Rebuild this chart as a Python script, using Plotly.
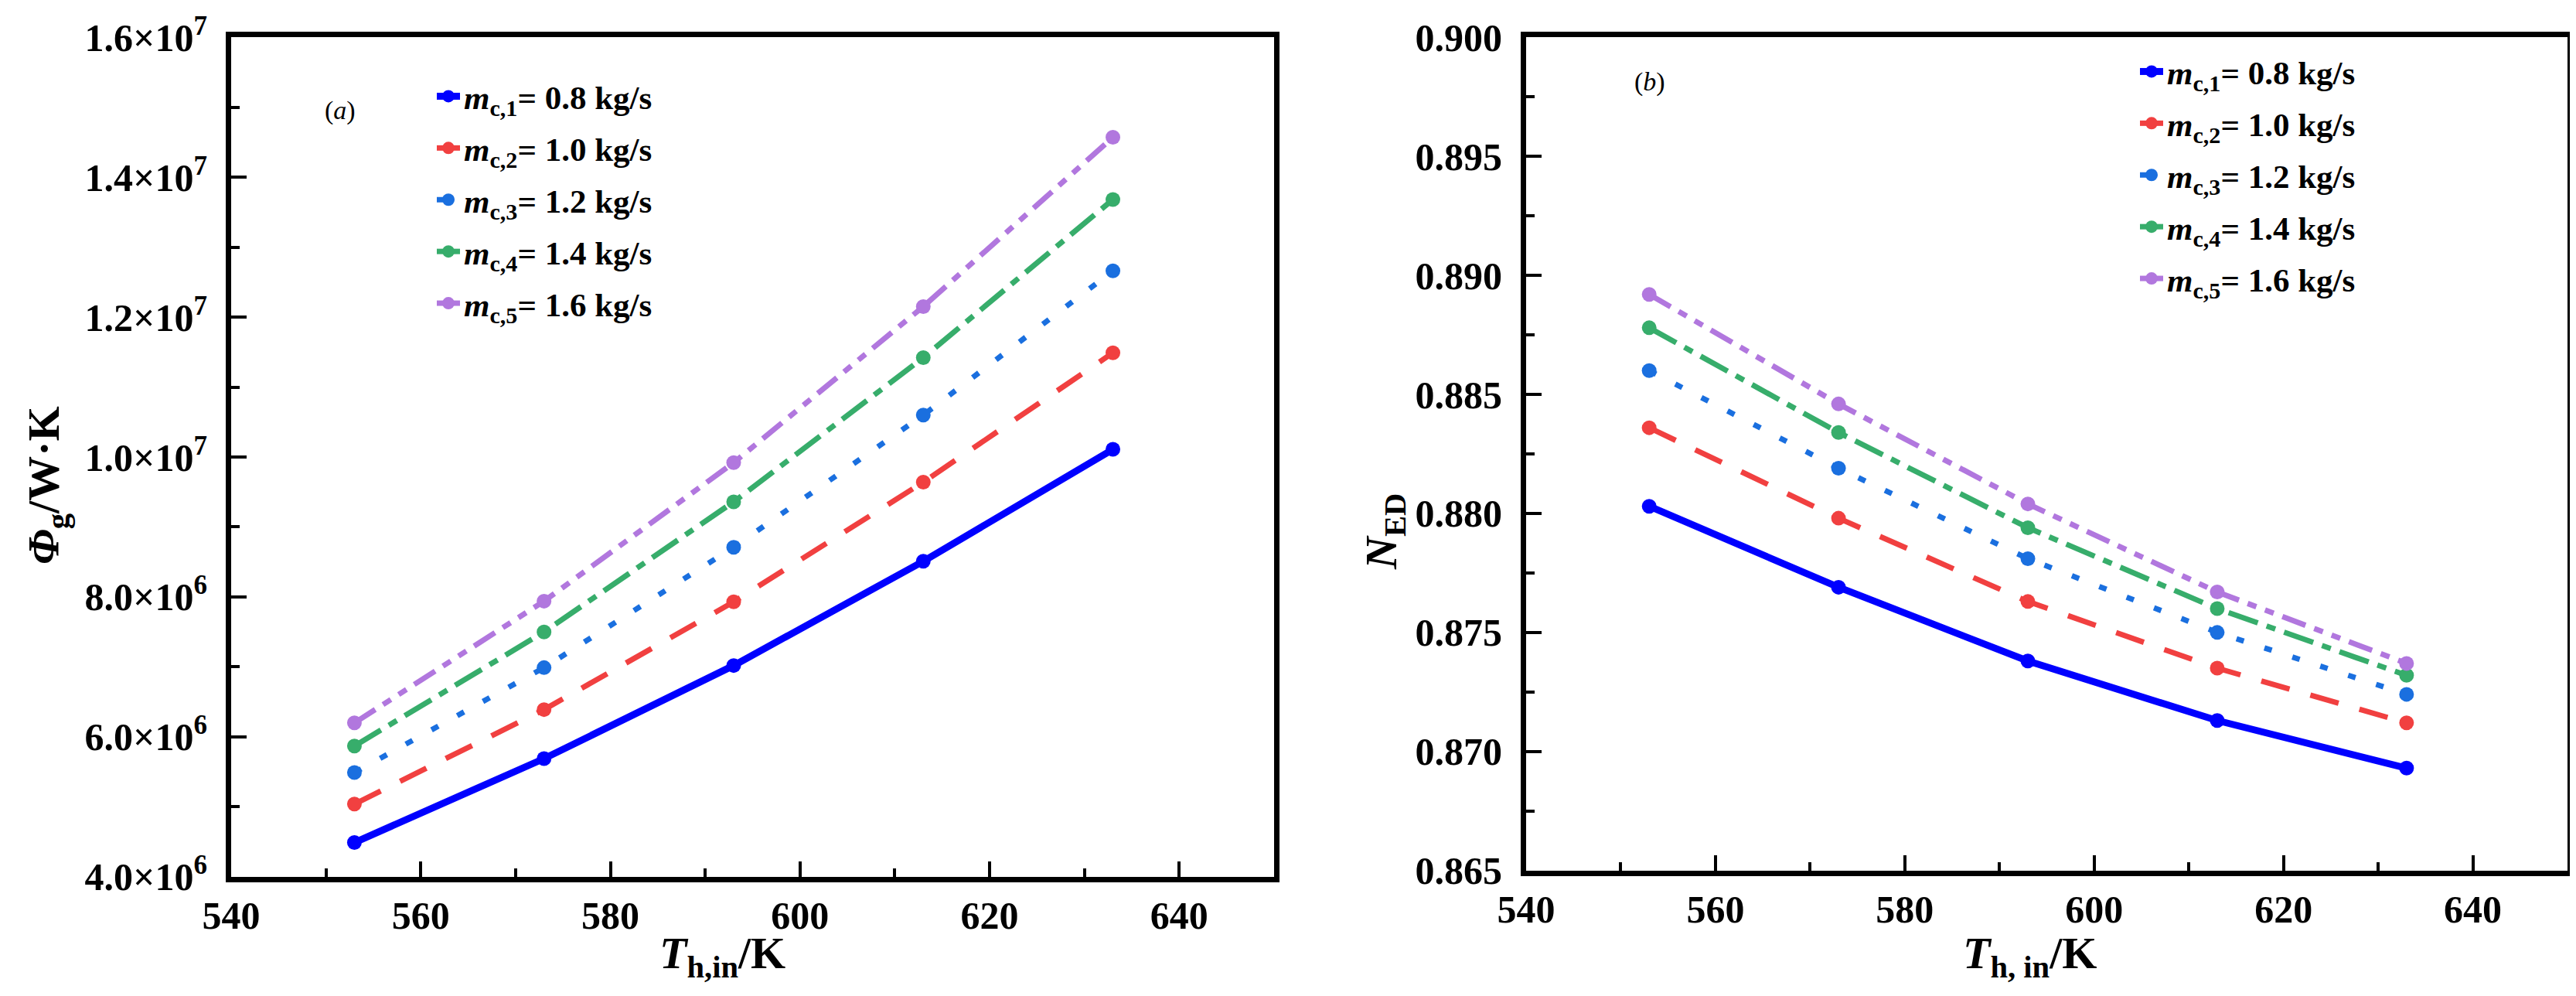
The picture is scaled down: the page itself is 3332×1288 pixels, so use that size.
import plotly.graph_objects as go

W, H = 3332, 1288
FONT = "Liberation Serif"

# data
T_IN = [553, 573, 593, 613, 633]

PHI_1 = [4.49e6, 5.69e6, 7.02e6, 8.51e6, 1.011e7]
PHI_2 = [5.04e6, 6.39e6, 7.93e6, 9.64e6, 1.149e7]
PHI_3 = [5.49e6, 6.99e6, 8.71e6, 1.060e7, 1.266e7]
PHI_4 = [5.87e6, 7.50e6, 9.36e6, 1.142e7, 1.368e7]
PHI_5 = [6.20e6, 7.94e6, 9.92e6, 1.215e7, 1.457e7]

NED_1 = [0.8803, 0.8769, 0.8738, 0.8713, 0.8693]
NED_2 = [0.8836, 0.8798, 0.8763, 0.8735, 0.8712]
NED_3 = [0.8860, 0.8819, 0.8781, 0.8750, 0.8724]
NED_4 = [0.8878, 0.8834, 0.8794, 0.8760, 0.8732]
NED_5 = [0.8892, 0.8846, 0.8804, 0.8767, 0.8737]

LABELS = [
    "<i>m</i><sub>c,1</sub>= 0.8 kg/s",
    "<i>m</i><sub>c,2</sub>= 1.0 kg/s",
    "<i>m</i><sub>c,3</sub>= 1.2 kg/s",
    "<i>m</i><sub>c,4</sub>= 1.4 kg/s",
    "<i>m</i><sub>c,5</sub>= 1.6 kg/s",
]

PHI_TICKVALS = [4e6, 6e6, 8e6, 1.0e7, 1.2e7, 1.4e7, 1.6e7]
PHI_TICKTEXT = [
    "4.0×10<sup>6</sup>", "6.0×10<sup>6</sup>", "8.0×10<sup>6</sup>",
    "1.0×10<sup>7</sup>", "1.2×10<sup>7</sup>", "1.4×10<sup>7</sup>",
    "1.6×10<sup>7</sup>",
]

# styles
COLORS = ["#0000FF", "#F14040", "#1A6FDF", "#37AD6B", "#B177DE"]
DASHES = ["solid", "38px,28px", "10px,28px", "40px,12px,12px,12px",
          "32px,12px,12px,12px,12px,12px"]
WIDTHS = [9, 7, 7, 7, 7]


def px(x):
    return x / W


def py(y):
    return 1 - y / H


fig = go.Figure()

for i, ys in enumerate([PHI_1, PHI_2, PHI_3, PHI_4, PHI_5]):
    fig.add_trace(go.Scatter(
        x=T_IN, y=ys, mode="lines+markers", name=LABELS[i],
        line=dict(color=COLORS[i], width=WIDTHS[i], dash=DASHES[i]),
        marker=dict(color=COLORS[i], size=19, symbol="circle"),
        xaxis="x", yaxis="y", legend="legend", legendgroup="a%d" % i,
    ))

for i, ys in enumerate([NED_1, NED_2, NED_3, NED_4, NED_5]):
    fig.add_trace(go.Scatter(
        x=T_IN, y=ys, mode="lines+markers", name=LABELS[i],
        line=dict(color=COLORS[i], width=WIDTHS[i], dash=DASHES[i]),
        marker=dict(color=COLORS[i], size=19, symbol="circle"),
        xaxis="x2", yaxis="y2", legend="legend2", legendgroup="b%d" % i,
    ))

tickfont = dict(family=FONT, size=50, color="black", weight="bold")
axis_common = dict(
    showline=True, linecolor="black", linewidth=7, mirror=True,
    ticks="inside", ticklen=20, tickwidth=4, tickcolor="black",
    showgrid=False, zeroline=False, tickfont=tickfont, automargin=False,
)

xa = dict(axis_common, range=[540, 650], tick0=540, dtick=20,
          ticklabelstandoff=0,
          minor=dict(ticks="inside", ticklen=11, tickwidth=4,
                     tickcolor="black", dtick=10, tick0=540))

legend_font = dict(family=FONT, size=43, color="black", weight="bold")

fig.update_layout(
    template="none",
    width=W, height=H,
    margin=dict(l=0, r=0, t=0, b=0),
    paper_bgcolor="white", plot_bgcolor="white",
    font=dict(family=FONT, color="black"),
    xaxis=dict(xa, domain=[px(291), px(1640)], anchor="y"),
    yaxis=dict(axis_common, domain=[py(1126), py(40)], anchor="x",
               range=[3.999e6, 1.6001e7], tickmode="array",
               tickvals=PHI_TICKVALS, ticktext=PHI_TICKTEXT,
               ticklabelstandoff=14,
               minor=dict(ticks="inside", ticklen=11, tickwidth=4,
                          tickcolor="black", tickmode="linear",
                          tick0=4e6, dtick=1e6)),
    xaxis2=dict(xa, domain=[px(1966), px(3313)], anchor="y2"),
    yaxis2=dict(axis_common, domain=[py(1118), py(40)], anchor="x2",
                range=[0.86499, 0.90001], tick0=0.865, dtick=0.005,
                tickformat=".3f", ticklabelstandoff=14,
                minor=dict(ticks="inside", ticklen=11, tickwidth=4,
                           tickcolor="black", tick0=0.865, dtick=0.0025)),
    legend=dict(x=px(552), y=py(82), xanchor="left", yanchor="top",
                bgcolor="rgba(0,0,0,0)", borderwidth=0,
                traceorder="grouped", tracegroupgap=8, font=legend_font),
    legend2=dict(x=px(2755), y=py(50), xanchor="left", yanchor="top",
                 bgcolor="rgba(0,0,0,0)", borderwidth=0,
                 traceorder="grouped", tracegroupgap=8, font=legend_font),
    showlegend=True,
)

title_font = dict(family=FONT, size=58, color="black", weight="bold")
annotations = [
    dict(text="<i>T</i><sub>h,in</sub>/K", x=px(926), y=py(1228),
         font=title_font),
    dict(text="<i>T</i><sub>h, in</sub>/K", x=px(2617), y=py(1228),
         font=title_font),
    dict(text="<i>Φ</i><sub>g</sub>/W·K", x=px(52), y=py(620),
         textangle=-90, font=title_font),
    dict(text="<i>N</i><sub>ED</sub>", x=px(1782), y=py(680),
         textangle=-90, font=title_font),
    dict(text="(<i>a</i>)", x=px(432), y=py(135),
         font=dict(family=FONT, size=34, color="black")),
    dict(text="(<i>b</i>)", x=px(2126), y=py(98),
         font=dict(family=FONT, size=34, color="black")),
]
for a in annotations:
    fig.add_annotation(xref="paper", yref="paper", showarrow=False,
                       xanchor="center", yanchor="middle", **a)

fig.write_html("out.html")
